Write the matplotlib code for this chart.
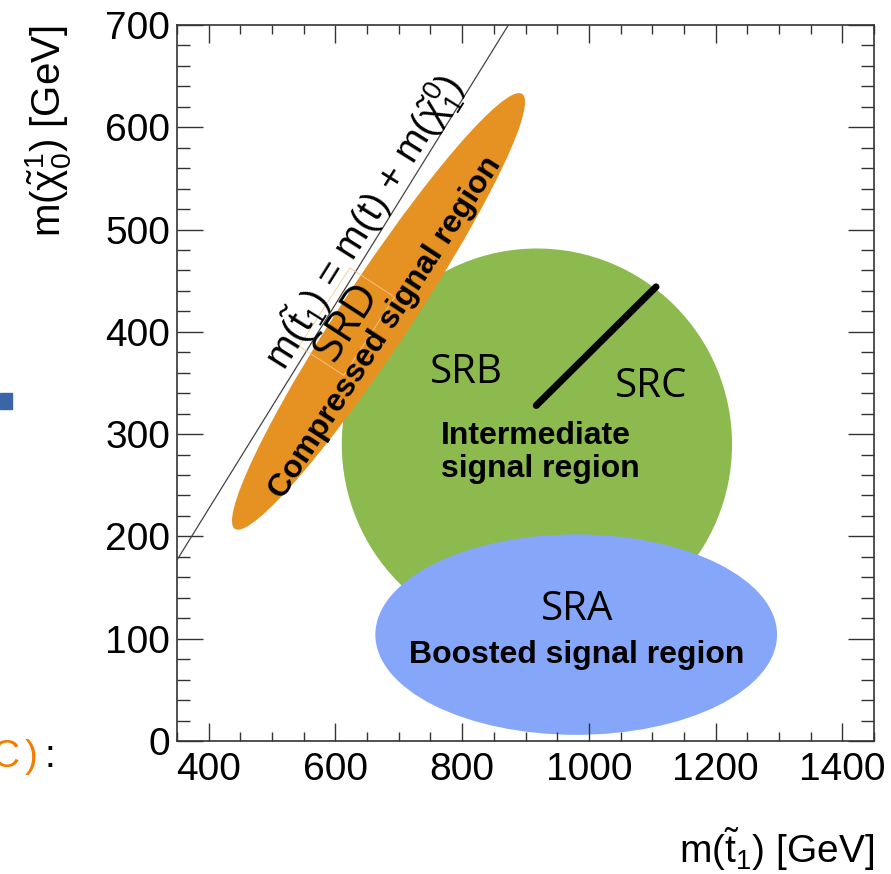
import matplotlib.pyplot as plt
import numpy as np
from matplotlib.patches import Ellipse, Rectangle
from matplotlib.ticker import MultipleLocator

plt.rcParams['font.family'] = ['Liberation Sans', 'DejaVu Sans']
plt.rcParams['mathtext.fontset'] = 'custom'
plt.rcParams['mathtext.rm'] = 'Liberation Sans'
plt.rcParams['mathtext.it'] = 'Liberation Sans:italic'
plt.rcParams['mathtext.default'] = 'regular'

# signal regions in the (m_stop, m_neutralino) plane, GeV
region_names = ["Intermediate", "Boosted", "Compressed"]
region_x = [918, 980, 668]
region_y = [290, 104, 420]
region_w = [616, 634, 623]
region_h = [383, 196, 90]
region_angle = [0, 0, 42.6]
region_colors = ["#8DBA4F", "#85A6F9", "#E69223"]

# SRB / SRC split inside the intermediate region
divider_x = [917, 1106]
divider_y = [328, 444]

# kinematic boundary m(stop) = m(t) + m(chi)
top_mass = 173
stop_edge = np.array([350, 1450])

fig = plt.figure(figsize=(8.91, 8.74), dpi=100)
ax = fig.add_axes([0.1987, 0.1522, 0.7822, 0.8192])

for i in range(len(region_names)):
    ax.add_patch(Ellipse((region_x[i], region_y[i]), region_w[i], region_h[i],
                         angle=region_angle[i], fc=region_colors[i], ec="none",
                         zorder=1 + i * 0.1 if i < 2 else 1.5))

ax.plot(divider_x, divider_y, color="black", lw=5, solid_capstyle="round", zorder=3)
ax.plot(stop_edge, stop_edge - top_mass, color="#444444", lw=0.9, zorder=3)

sr_font = dict(family=["Open Sans", "DejaVu Sans"], color="black", zorder=4)
ax.text(806, 350, "SRB", ha="center", va="baseline", fontsize=29, **sr_font)
ax.text(1098, 336, "SRC", ha="center", va="baseline", fontsize=29, **sr_font)
ax.text(982, 118, "SRA", ha="center", va="baseline", fontsize=29, **sr_font)
ax.text(618, 410, "SRD", ha="center", va="center", rotation=57, rotation_mode="anchor",
        fontsize=32,
        bbox=dict(boxstyle="square,pad=0.1", fc="none", ec="#F5C98E", lw=0.6), **sr_font)

bold = dict(fontsize=23, fontweight="bold", color="black", zorder=4)
ax.text(924, 282, "Intermediate\nsignal region", ha="center", va="center",
        multialignment="left", linespacing=1.1, **bold)
ax.text(980, 84, "Boosted signal region", ha="center", va="center", **bold)
ax.text(679, 404, "Compressed signal region", ha="center", va="center",
        rotation=57, rotation_mode="anchor", **bold)

ax.text(646, 507, r"m($\tilde{t}_{1}$) = m(t) + m($\tilde{\chi}^{0}_{1}$)",
        ha="center", va="center", rotation=58, rotation_mode="anchor",
        fontsize=28, zorder=4)

ax.set_xlim(350, 1450)
ax.set_ylim(0, 700)
ax.xaxis.set_major_locator(MultipleLocator(200))
ax.xaxis.set_minor_locator(MultipleLocator(50))
ax.yaxis.set_major_locator(MultipleLocator(100))
ax.yaxis.set_minor_locator(MultipleLocator(20))
ax.tick_params(which="both", direction="in", top=True, right=True,
               color="#333333", width=1.0, labelsize=28)
ax.tick_params(axis="x", which="major", length=13, pad=8)
ax.tick_params(axis="x", which="minor", length=6.5)
ax.tick_params(axis="y", which="major", length=18.7, pad=5)
ax.tick_params(axis="y", which="minor", length=9.4)
for sp in ax.spines.values():
    sp.set_color("#333333")
    sp.set_linewidth(1.2)

ax.set_xlabel(r"m($\tilde{t}_{1}$) [GeV]", fontsize=28, loc="right")
ax.xaxis.set_label_coords(1.0, -0.118)
ax.set_ylabel(r"m($\tilde{\chi}^{1}_{0}$) [GeV]", fontsize=29, loc="top")
ax.yaxis.set_label_coords(-0.150, 1.0)

# bits of the surrounding slide
fig.add_artist(Rectangle((0, 1 - 409 / 874), 12 / 891, 16 / 874,
                         transform=fig.transFigure, color="#3A66A8"))
fig.text(-8 / 891, 1 - 757 / 874, "C", color="#F57C00", fontsize=28, va="center")
fig.text(25 / 891, 1 - 757 / 874, ")", color="#F57C00", fontsize=28, va="center")
fig.text(44 / 891, 1 - 757 / 874, ":", color="black", fontsize=28, va="center")

fig.savefig("out.png", dpi=100)
